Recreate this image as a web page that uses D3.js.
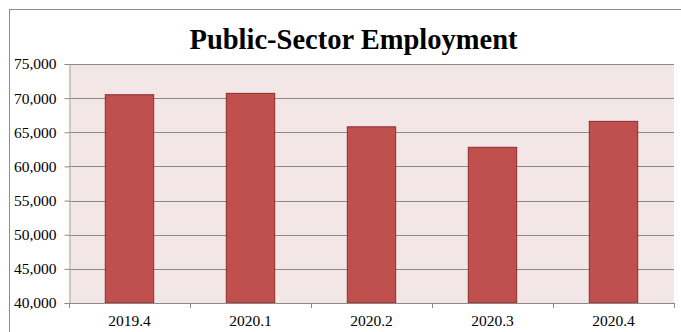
<!DOCTYPE html>
<html>
<head>
<meta charset="utf-8">
<script src="https://cdn.jsdelivr.net/npm/d3@7"></script>
<style>
  html, body { margin: 0; padding: 0; background: #ffffff; }
  svg { display: block; }
  text { font-family: "Liberation Serif", "Times New Roman", serif; fill: #000; }
</style>
</head>
<body>
<svg id="chart" width="681" height="332"></svg>
<script>
// Quarterly public-sector employment
const categories = ["2019.4", "2020.1", "2020.2", "2020.3", "2020.4"];
const employment = [70500, 70700, 65800, 62800, 66600];
const yTicks = [40000, 45000, 50000, 55000, 60000, 65000, 70000, 75000];
const titleText = "Public-Sector Employment";

const svg = d3.select("#chart");
const W = 681, H = 332;
const plot = { left: 69, right: 674, top: 64, bottom: 303 };
const serif = "'Liberation Serif', 'Times New Roman', serif";

// outer chart frame (extends past the visible page)
svg.append("rect")
  .attr("x", 9.5).attr("y", 9.5)
  .attr("width", W + 20).attr("height", H + 20)
  .attr("fill", "#ffffff")
  .attr("stroke", "#8c8c8c").attr("stroke-width", 1);

const x = d3.scaleBand()
  .domain(categories)
  .range([plot.left, plot.right])
  .paddingInner(0.6)
  .paddingOuter(0.3);

const y = d3.scaleLinear()
  .domain([40000, 75000])
  .range([plot.bottom, plot.top]);

// plot background
svg.append("rect")
  .attr("x", plot.left).attr("y", plot.top)
  .attr("width", plot.right - plot.left)
  .attr("height", plot.bottom - plot.top)
  .attr("fill", "#f2e6e6");

// horizontal gridlines
svg.append("g")
  .selectAll("line")
  .data(yTicks.filter(d => d !== 40000))
  .join("line")
  .attr("x1", plot.left).attr("x2", plot.right)
  .attr("y1", d => Math.round(y(d)) + 0.5)
  .attr("y2", d => Math.round(y(d)) + 0.5)
  .attr("stroke", "#8a8a8a").attr("stroke-width", 1);

// bars
svg.append("g")
  .selectAll("rect")
  .data(categories.map((c, i) => ({ c, v: employment[i] })))
  .join("rect")
  .attr("x", d => x(d.c))
  .attr("y", d => y(d.v))
  .attr("width", x.bandwidth())
  .attr("height", d => y(40000) - y(d.v))
  .attr("fill", "#c0504d")
  .attr("stroke", "#8c2d2b").attr("stroke-width", 1);

// y axis
const yAxis = d3.axisLeft(y)
  .tickValues(yTicks)
  .tickSize(5)
  .tickPadding(8)
  .tickFormat(d3.format(","));
const gy = svg.append("g")
  .attr("transform", `translate(${plot.left + 0.5},0)`)
  .call(yAxis)
  .attr("font-family", serif);
gy.select(".domain").attr("stroke", "#a6a6a6");
gy.selectAll(".tick line").attr("stroke", "#8a8a8a");
gy.selectAll(".tick text")
  .style("font-family", serif)
  .attr("font-size", 15.5)
  .attr("fill", "#000");

// x axis: ticks sit on category boundaries
const boundaries = d3.range(categories.length + 1)
  .map(i => plot.left + i * x.step());
const gx = svg.append("g");
gx.append("line")
  .attr("x1", plot.left).attr("x2", plot.right)
  .attr("y1", plot.bottom + 0.5).attr("y2", plot.bottom + 0.5)
  .attr("stroke", "#8a8a8a");
gx.selectAll("line.tk")
  .data(boundaries)
  .join("line")
  .attr("class", "tk")
  .attr("x1", d => Math.round(d) + 0.5).attr("x2", d => Math.round(d) + 0.5)
  .attr("y1", plot.bottom).attr("y2", plot.bottom + 5)
  .attr("stroke", "#8a8a8a");
gx.selectAll("text")
  .data(categories)
  .join("text")
  .attr("x", d => x(d) + x.bandwidth() / 2)
  .attr("y", 326)
  .attr("text-anchor", "middle")
  .style("font-family", serif)
  .attr("font-size", 15.5)
  .text(d => d);

// title
svg.append("text")
  .attr("x", 353.5)
  .attr("y", 49)
  .attr("text-anchor", "middle")
  .style("font-family", serif)
  .attr("font-size", 28.5)
  .attr("font-weight", "bold")
  .text(titleText);
</script>
</body>
</html>
